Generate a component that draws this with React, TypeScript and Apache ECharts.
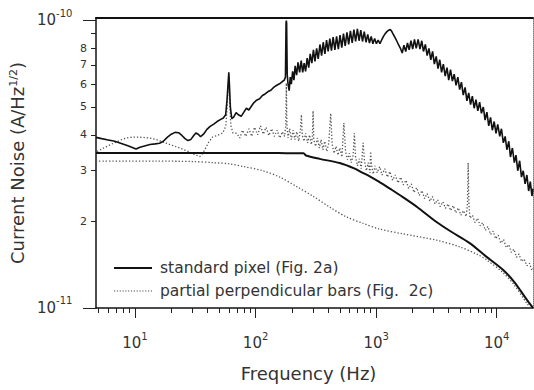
import React, { useEffect, useRef } from "react";
import * as echarts from "echarts";

// Noise values below are in units of 1e-11 A/Hz^1/2; frequencies in Hz.
const UNIT = 1e-11;

const stdPixelMeasured: [number, number][] = [
  [4.75, 3.92], [5.3, 3.88], [6.0, 3.84], [6.8, 3.8], [7.6, 3.74], [8.5, 3.68], [9.4, 3.62], [10.2, 3.57],
  [11.0, 3.62], [12.0, 3.66], [13.3, 3.7], [14.7, 3.72], [16.0, 3.74], [17.2, 3.8], [18.5, 3.92], [20.0, 4.02],
  [21.5, 4.08], [23.0, 4.07], [24.5, 3.98], [26.0, 3.88], [27.5, 3.82], [29.0, 3.85], [30.5, 3.96], [32.0, 4.06],
  [33.5, 4.02], [35.0, 3.94], [37.0, 4.02], [39.5, 4.18], [42.0, 4.28], [45.0, 4.36], [48.0, 4.45], [51.0, 4.52],
  [54.0, 4.58], [56.5, 4.7], [58.0, 5.3], [59.3, 6.1], [60.0, 6.6], [60.7, 6.0], [61.8, 5.0], [63.5, 4.55],
  [66, 4.62], [69, 4.78], [72, 4.7], [76, 4.64], [80, 4.8], [84, 4.95], [88, 4.88], [92, 5.02], [97, 5.18],
  [102, 5.28], [108, 5.34], [114, 5.48], [120, 5.55], [127, 5.66], [134, 5.72], [142, 5.86], [150, 5.95],
  [158, 6.02], [166, 6.12], [173, 6.2], [177, 6.35], [179, 9.8], [180, 10.0], [181, 9.8], [183, 6.5], [186, 6.0],
  [190, 5.7], [194, 6.35], [198, 6.0], [203, 6.65], [208, 6.2], [213, 6.95], [219, 6.45], [225, 7.15], [232, 6.6],
  [239, 7.25], [246, 6.6], [253, 7.1], [260, 6.65], [268, 7.4], [276, 6.85], [284, 7.65], [293, 7.1], [302, 7.9],
  [311, 7.2], [321, 8.0], [331, 7.35], [342, 8.25], [353, 7.55], [364, 8.4], [376, 7.65], [388, 8.55], [400, 7.8],
  [413, 8.65], [426, 7.85], [440, 8.75], [455, 7.9], [470, 8.8], [486, 7.95], [502, 8.9], [519, 8.05], [536, 9.0],
  [554, 8.15], [573, 9.1], [592, 8.25], [612, 9.2], [633, 8.35], [654, 9.3], [676, 8.45], [699, 9.35], [722, 8.5],
  [746, 9.25], [771, 8.45], [797, 9.15], [824, 8.4], [852, 8.95], [880, 8.35], [910, 8.8], [940, 8.3], [972, 8.65],
  [1005, 8.3], [1040, 8.55], [1075, 8.3], [1110, 8.55], [1150, 8.8], [1190, 9.0], [1230, 9.15], [1270, 9.25],
  [1310, 9.3], [1350, 9.15], [1395, 8.9], [1440, 8.7], [1490, 8.45], [1540, 8.2], [1590, 8.0], [1645, 7.7],
  [1700, 8.2], [1760, 7.8], [1820, 8.35], [1880, 7.9], [1945, 8.5], [2010, 7.95], [2080, 8.6], [2150, 8.0],
  [2230, 8.6], [2310, 7.95], [2390, 8.5], [2470, 7.8], [2560, 8.25], [2650, 7.55], [2740, 8.0], [2840, 7.3],
  [2940, 7.8], [3040, 7.05], [3150, 7.5], [3260, 6.8], [3370, 7.3], [3490, 6.6], [3610, 7.05], [3740, 6.4],
  [3870, 6.85], [4000, 6.2], [4140, 6.75], [4290, 6.15], [4440, 6.5], [4600, 5.95], [4760, 6.35], [4930, 5.75],
  [5100, 6.1], [5280, 5.5], [5470, 5.85], [5660, 5.25], [5860, 5.6], [6070, 5.1], [6280, 5.45], [6500, 4.95],
  [6730, 5.3], [6970, 4.85], [7220, 5.2], [7470, 4.75], [7740, 5.0], [8010, 4.5], [8290, 4.8], [8590, 4.3],
  [8890, 4.6], [9200, 4.15], [9530, 4.45], [9870, 4.05], [10200, 4.35], [10600, 3.95], [10950, 4.2], [11350, 3.75],
  [11750, 3.95], [12150, 3.55], [12600, 3.8], [13000, 3.35], [13500, 3.6], [14000, 3.2], [14450, 3.4], [14950, 3.0],
  [15500, 3.25], [16050, 2.85], [16600, 3.0], [17200, 2.7], [17800, 2.9], [18400, 2.55], [19000, 2.75],
  [19600, 2.45], [20000, 2.6],
];

const stdPixelModel: [number, number][] = [
  [4.75, 3.46], [20, 3.46], [60, 3.46], [120, 3.46], [200, 3.45], [250, 3.45], [262, 3.39], [340, 3.3],
  [500, 3.19], [665, 3.05], [775, 2.95], [885, 2.87], [1070, 2.74], [1300, 2.6], [1663, 2.43], [2200, 2.24],
  [3170, 1.99], [4200, 1.84], [5970, 1.68], [8000, 1.52], [11200, 1.36], [14000, 1.23], [17700, 1.07], [20000, 1.0],
];

const barsMeasured: [number, number][] = [
  [4.85, 3.5], [5.5, 3.6], [6.2, 3.69], [7.0, 3.78], [8.0, 3.87], [9.0, 3.92], [10, 3.93], [11.5, 3.92],
  [13.3, 3.9], [15, 3.85], [17, 3.78], [19.5, 3.7], [22.3, 3.63], [25, 3.56], [28.6, 3.48], [31, 3.42],
  [34.5, 3.36], [36.5, 3.45], [38, 3.56], [41, 3.78], [44, 3.93], [48, 3.98], [53.5, 4.06], [56.7, 4.3],
  [58.5, 5.2], [60, 6.4], [61.2, 5.0], [62.5, 4.3], [65, 4.06], [70, 4.05], [74, 3.9], [78, 4.15], [83, 3.95],
  [88, 4.2], [93, 3.95], [98, 4.25], [104, 4.0], [110, 4.3], [116, 4.02], [122, 4.25], [129, 3.98], [136, 4.2],
  [143, 3.95], [151, 4.15], [159, 3.9], [167, 4.1], [174, 3.95], [178, 4.3], [180, 6.05], [182, 4.3], [186, 3.9],
  [192, 4.2], [198, 3.85], [205, 4.15], [212, 3.85], [220, 4.1], [228, 3.8], [236, 4.2], [240, 4.7], [244, 4.0],
  [252, 3.8], [260, 4.05], [270, 3.75], [280, 4.0], [290, 3.7], [296, 3.95], [300, 4.85], [304, 3.85],
  [315, 3.65], [326, 3.9], [338, 3.6], [350, 3.85], [362, 3.55], [375, 3.8], [390, 3.5], [405, 3.75], [420, 4.75],
  [432, 3.7], [448, 3.45], [465, 3.65], [482, 3.4], [500, 3.6], [520, 3.35], [540, 4.4], [558, 3.5], [578, 3.28],
  [600, 3.45], [622, 3.2], [645, 3.4], [660, 4.05], [675, 3.35], [700, 3.12], [725, 3.3], [752, 3.05], [780, 3.75],
  [800, 3.25], [830, 3.0], [860, 3.2], [890, 2.95], [900, 3.5], [915, 3.15], [945, 2.92], [980, 3.12], [1020, 2.95],
  [1070, 3.1], [1120, 2.9], [1180, 3.05], [1240, 2.85], [1300, 2.98], [1370, 2.78], [1440, 2.9], [1520, 2.72],
  [1600, 2.85], [1680, 2.68], [1770, 2.78], [1860, 2.6], [1960, 2.7], [2060, 2.52], [2170, 2.62], [2280, 2.46],
  [2400, 2.56], [2520, 2.4], [2650, 2.5], [2790, 2.35], [2930, 2.44], [3080, 2.3], [3240, 2.38], [3400, 2.25],
  [3580, 2.34], [3760, 2.22], [3950, 2.3], [4150, 2.18], [4360, 2.27], [4580, 2.14], [4800, 2.23], [5050, 2.1],
  [5300, 2.18], [5580, 2.08], [5720, 2.3], [5800, 3.2], [5880, 2.3], [6000, 2.05], [6300, 2.1], [6600, 1.98],
  [6950, 2.05], [7300, 1.93], [7650, 1.98], [8050, 1.86], [8450, 1.92], [8900, 1.8], [9350, 1.85], [9800, 1.74],
  [10300, 1.79], [10800, 1.68], [11400, 1.73], [12000, 1.62], [12600, 1.66], [13200, 1.56], [13900, 1.6],
  [14600, 1.5], [15300, 1.54], [16100, 1.45], [16900, 1.48], [17800, 1.4], [18700, 1.43], [19600, 1.35],
  [20000, 1.37],
];

const barsModel: [number, number][] = [
  [4.75, 3.24], [15, 3.24], [30, 3.23], [45, 3.2], [61, 3.17], [80, 3.1], [115, 3.0], [159, 2.85], [220, 2.64],
  [298, 2.45], [413, 2.24], [570, 2.07], [775, 1.97], [1070, 1.88], [1663, 1.81], [3170, 1.72], [4930, 1.63],
  [7000, 1.53], [8200, 1.47], [11200, 1.33], [14000, 1.2], [17700, 1.04], [20000, 0.98],
];

const legendNames = ["standard pixel (Fig. 2a)", "partial perpendicular bars (Fig.  2c)"];
const xMajorTicks = [10, 100, 1000, 10000];
const xMinorTicks = [5, 6, 7, 8, 9, 20, 30, 40, 50, 60, 70, 80, 90, 200, 300, 400, 500, 600, 700, 800, 900,
  2000, 3000, 4000, 5000, 6000, 7000, 8000, 9000];
const yMajorTicks = [1, 10];
const yMinorTicks = [2, 3, 4, 5, 6, 7, 8, 9];
const yMinorLabels = [2, 3, 4, 5, 6, 7, 8];

const FONT = "DejaVu Sans";
const TEXT = "#333";
const X_MIN = 4.75;
const X_MAX = 20000;
const Y_MIN = 0.999 * UNIT;
const Y_MAX = 10.2 * UNIT;

const toSeries = (d: [number, number][]) => d.map(([f, n]) => [f, n * UNIT]);

// dotted legend icon: a row of small squares
let dotted = "path://";
for (let i = 0; i < 14; i++) dotted += `M${i * 3},0h1.2v1.2h-1.2z`;

const supRich = {
  b: { fontSize: 15, lineHeight: 24, verticalAlign: "middle", fontFamily: FONT, color: TEXT },
  sup: { fontSize: 10, lineHeight: 8, verticalAlign: "top", fontFamily: FONT, color: TEXT },
};

export default function App() {
  const ref = useRef<HTMLDivElement>(null);
  useEffect(() => {
    if (!ref.current) return;
    const chart = echarts.init(ref.current, null, { renderer: "svg" });
    const tickStyle = { color: "#222", width: 1 };
    chart.setOption({
      animation: false,
      backgroundColor: "#fff",
      grid: { left: 96, right: 1, top: 18, bottom: 82 },
      legend: {
        data: [
          { name: legendNames[0], icon: "rect", itemStyle: { color: "#111" } },
          { name: legendNames[1], icon: dotted, itemStyle: { color: "#444" } },
        ],
        left: 114,
        top: 260,
        padding: 0,
        orient: "vertical",
        itemWidth: 38,
        itemHeight: 2,
        itemGap: 7,
        textStyle: { fontFamily: FONT, fontSize: 15.5, color: TEXT, padding: [0, 0, 0, 3] },
      },
      xAxis: [
        {
          type: "log",
          min: X_MIN,
          max: X_MAX,
          position: "bottom",
          axisLine: { show: true, onZero: false, lineStyle: { color: "#111", width: 1.5 } },
          axisTick: { show: true, inside: false, length: 10, customValues: xMajorTicks, lineStyle: tickStyle },
          axisLabel: {
            customValues: xMajorTicks,
            margin: 23,
            formatter: (v: number) => `{b|10}{sup|${Math.round(Math.log10(v))}}`,
            rich: supRich,
          },
          splitLine: { show: false },
          name: "Frequency (Hz)",
          nameLocation: "middle",
          nameGap: 56,
          nameTextStyle: { fontFamily: FONT, fontSize: 18, color: TEXT, padding: [0, 12, 0, 0] },
        },
        {
          type: "log",
          min: X_MIN,
          max: X_MAX,
          position: "bottom",
          axisLine: { show: false, onZero: false },
          axisTick: { show: true, inside: false, length: 5, customValues: xMinorTicks, lineStyle: tickStyle },
          axisLabel: { show: false },
          splitLine: { show: false },
        },
        {
          type: "log",
          min: X_MIN,
          max: X_MAX,
          position: "top",
          axisLine: { show: true, onZero: false, lineStyle: { color: "#111", width: 2 } },
          axisTick: { show: false },
          axisLabel: { show: false },
          splitLine: { show: false },
        },
      ],
      yAxis: [
        {
          type: "log",
          min: Y_MIN,
          max: Y_MAX,
          position: "left",
          axisLine: { show: true, onZero: false, lineStyle: { color: "#111", width: 1.5 } },
          axisTick: { show: true, inside: false, length: 13, customValues: yMajorTicks.map((v) => v * UNIT), lineStyle: tickStyle },
          axisLabel: {
            customValues: yMajorTicks.map((v) => v * UNIT),
            margin: 59,
            align: "left",
            showMinLabel: true,
            showMaxLabel: true,
            formatter: (v: number) => `{b|10}{sup|${Math.round(Math.log10(v))}}`,
            rich: supRich,
          },
          splitLine: { show: false },
          name: "Current Noise (A/Hz{sup|1/2})",
          nameLocation: "middle",
          nameGap: 62,
          nameTextStyle: {
            fontFamily: FONT,
            fontSize: 18,
            color: TEXT,
            rich: { sup: { fontFamily: FONT, fontSize: 11, color: TEXT, verticalAlign: "top", lineHeight: 10 } },
          },
        },
        {
          type: "log",
          min: Y_MIN,
          max: Y_MAX,
          position: "left",
          axisLine: { show: false, onZero: false },
          axisTick: { show: true, inside: false, length: 5, customValues: yMinorTicks.map((v) => v * UNIT), lineStyle: tickStyle },
          axisLabel: {
            customValues: yMinorLabels.map((v) => v * UNIT),
            margin: 9,
            fontFamily: FONT,
            fontSize: 11,
            color: TEXT,
            formatter: (v: number) => String(Math.round(v / UNIT)),
          },
          splitLine: { show: false },
        },
        {
          type: "log",
          min: Y_MIN,
          max: Y_MAX,
          position: "right",
          axisLine: { show: true, onZero: false, lineStyle: { color: "#777", width: 1, type: "dotted" } },
          axisTick: { show: false },
          axisLabel: { show: false },
          splitLine: { show: false },
        },
      ],
      series: [
        {
          name: "partial perpendicular bars model",
          type: "line",
          data: toSeries(barsModel),
          symbol: "none",
          smooth: 0.3,
          lineStyle: { color: "#555", width: 1.3, type: [1.3, 2] },
          itemStyle: { color: "#555" },
        },
        {
          name: legendNames[1],
          type: "line",
          data: toSeries(barsMeasured),
          symbol: "none",
          lineStyle: { color: "#555", width: 1.3, type: [1.3, 2] },
          itemStyle: { color: "#555" },
        },
        {
          name: "standard pixel model",
          type: "line",
          data: toSeries(stdPixelModel),
          symbol: "none",
          smooth: 0.3,
          lineStyle: { color: "#111", width: 2 },
          itemStyle: { color: "#111" },
        },
        {
          name: legendNames[0],
          type: "line",
          data: toSeries(stdPixelMeasured),
          symbol: "none",
          lineStyle: { color: "#111", width: 1.6 },
          itemStyle: { color: "#111" },
        },
      ],
    });
    return () => chart.dispose();
  }, []);
  return (
    <div
      ref={ref}
      style={{ position: "absolute", left: 0, top: 0, width: 534, height: 390, background: "#fff" }}
    />
  );
}
